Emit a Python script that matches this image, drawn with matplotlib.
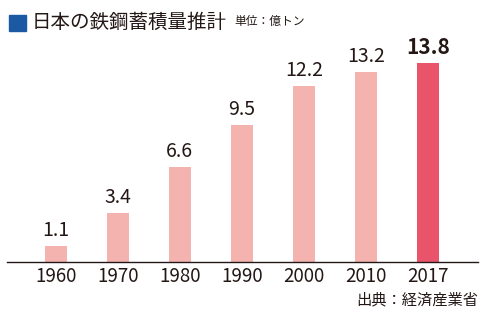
import matplotlib
matplotlib.use('Agg')
import matplotlib.pyplot as plt
from matplotlib.patches import Rectangle

plt.rcParams['font.family'] = ['Noto Sans CJK JP', 'DejaVu Sans']

years = ['1960', '1970', '1980', '1990', '2000', '2010', '2017']
stock = [1.1, 3.4, 6.6, 9.5, 12.2, 13.2, 13.8]
value_labels = ['1.1', '3.4', '6.6', '9.5', '12.2', '13.2', '13.8']
title = '日本の鉄鋼蓄積量推計'
unit = '単位：億トン'
source = '出典：経済産業省'

W, H = 490, 324
fig = plt.figure(figsize=(W / 100, H / 100), dpi=100)

# axes placed in pixel terms: baseline at y=262, line from x=7 to x=478
ax = fig.add_axes([7 / W, (H - 262) / H, (478 - 7) / W, (262 - 30) / H])
ax.set_xlim(-0.79, 6.81)
ax.set_ylim(0, 232 / 14.4)

pink = '#f5b3af'
red = '#e9546b'
colors = [pink] * (len(years) - 1) + [red]
x = range(len(years))
ax.bar(x, stock, width=0.355, color=colors)

for i, (v, lab) in enumerate(zip(stock, value_labels)):
    if i == len(years) - 1:
        ax.text(i, v + 0.4, lab, ha='center', va='bottom', fontsize=15,
                fontweight='bold', color='#231815')
    else:
        ax.text(i, v + 0.35, lab, ha='center', va='bottom', fontsize=14,
                color='#231815')

for s in ['top', 'right', 'left']:
    ax.spines[s].set_visible(False)
ax.spines['bottom'].set_color('#231815')
ax.spines['bottom'].set_linewidth(1.0)
ax.set_yticks([])
ax.set_xticks(list(x))
ax.set_xticklabels(years, fontsize=13.5, color='#231815')
ax.tick_params(axis='x', length=0, pad=3)

# title block
fig.patches.append(Rectangle((9 / W, 1 - 31 / H), 17 / W, 16 / H,
                             transform=fig.transFigure, color='#1b5aa3'))
fig.text(32 / W, 1 - 22 / H, title, fontsize=14, color='#231815',
         va='center', ha='left')
fig.text(234 / W, 1 - 21 / H, unit, fontsize=8.5, color='#231815',
         va='center', ha='left')
fig.text(478 / W, 1 - 300 / H, source, fontsize=11, color='#231815',
         va='center', ha='right')

fig.savefig('out.png', dpi=100)
